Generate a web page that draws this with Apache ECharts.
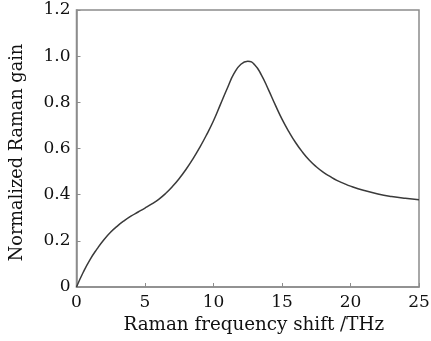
<!DOCTYPE html>
<html>
<head>
<meta charset="utf-8">
<script src="https://cdn.jsdelivr.net/npm/echarts@6/dist/echarts.min.js"></script>
<style>html,body{margin:0;padding:0;background:#fff}#c{width:431px;height:341px}</style>
</head>
<body>
<div id="c"></div>
<script>
const shiftTHz = [0,0.5,1,1.5,2,2.5,3,3.5,4,4.5,5,5.5,6,6.5,7,7.5,8,8.5,9,9.5,10,10.5,11,11.5,12,12.5,13,13.5,14,14.5,15,15.5,16,16.5,17,17.5,18,18.5,19,19.5,20,21,22,23,24,25];
const gain = [0,0.065,0.12,0.165,0.205,0.238,0.265,0.288,0.308,0.325,0.342,0.36,0.38,0.405,0.435,0.47,0.51,0.555,0.605,0.66,0.72,0.79,0.86,0.925,0.965,0.978,0.963,0.918,0.856,0.79,0.727,0.673,0.625,0.584,0.549,0.521,0.498,0.479,0.462,0.449,0.437,0.418,0.403,0.392,0.384,0.378];
const xTicks = [0,5,10,15,20,25];
const yTicks = [0,0.2,0.4,0.6,0.8,1.0,1.2];
const xName = 'Raman frequency shift /THz';
const yName = 'Normalized Raman gain';

const font = '"DejaVu Serif", "Liberation Serif", serif';
const axisGray = '#8c8c8c';
const chart = echarts.init(document.getElementById('c'));
chart.setOption({
  animation: false,
  grid: {left: 76.5, right: 12, top: 10, bottom: 54, containLabel: false, outerBoundsMode: 'none',
    show: true, borderColor: axisGray, borderWidth: 1.5, backgroundColor: 'transparent'},
  xAxis: {
    type: 'value', min: xTicks[0], max: xTicks[xTicks.length-1], interval: 5,
    name: xName, nameLocation: 'middle', nameGap: 29,
    nameTextStyle: {fontFamily: font, fontSize: 18.3, color: '#111', padding: [0, 0, 0, 12]},
    axisLine: {show: true, lineStyle: {color: axisGray, width: 1.5}},
    axisTick: {show: true, inside: true, length: 4, lineStyle: {color: axisGray}},
    axisLabel: {fontFamily: font, fontSize: 17, color: '#111', margin: 7},
    splitLine: {show: false}
  },
  yAxis: {
    type: 'value', min: yTicks[0], max: yTicks[yTicks.length-1], interval: 0.2,
    name: yName, nameLocation: 'middle', nameGap: 50,
    nameTextStyle: {fontFamily: font, fontSize: 17.7, color: '#111', padding: [0, 8, 0, 0]},
    axisLine: {show: true, lineStyle: {color: axisGray, width: 1.5}},
    axisTick: {show: true, inside: true, length: 4, lineStyle: {color: axisGray}},
    axisLabel: {fontFamily: font, fontSize: 17, color: '#111', margin: 6,
      formatter: v => v === 0 ? '0' : v.toFixed(1)},
    splitLine: {show: false}
  },
  series: [{
    type: 'line', smooth: 0.5, showSymbol: false,
    data: shiftTHz.map((x, i) => [x, gain[i]]),
    lineStyle: {color: '#3a3a3a', width: 1.5}
  }]
});
</script>
</body>
</html>
